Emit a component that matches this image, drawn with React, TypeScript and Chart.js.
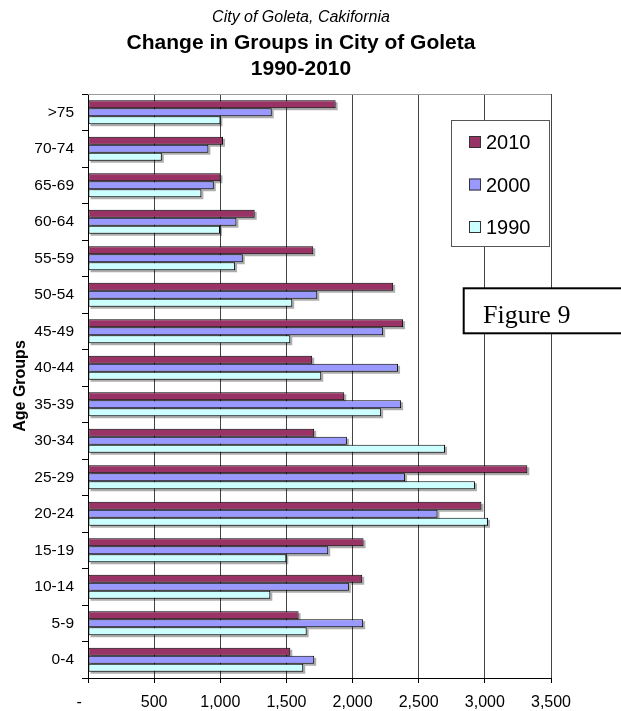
import React, { useEffect, useRef } from 'react';
import { Chart, registerables } from 'chart.js';

Chart.register(...registerables);

// Population by age group, City of Goleta
const ageGroups = ['0-4', '5-9', '10-14', '15-19', '20-24', '25-29', '30-34', '35-39', '40-44', '45-49', '50-54', '55-59', '60-64', '65-69', '70-74', '>75'];
const pop2010 = [1529, 1592, 2073, 2083, 2974, 3321, 1710, 1937, 1695, 2382, 2307, 1703, 1260, 1001, 1021, 1872];
const pop2000 = [1710, 2080, 1972, 1816, 2642, 2397, 1957, 2367, 2344, 2231, 1733, 1170, 1122, 951, 910, 1389];
const pop1990 = [1627, 1653, 1378, 1499, 3024, 2925, 2699, 2216, 1763, 1529, 1544, 1112, 998, 857, 558, 1001];
const seriesNames = ['2010', '2000', '1990'];
const valueTickLabels = ['-    ', '500', '1,000', '1,500', '2,000', '2,500', '3,000', '3,500'];

const subtitleText = 'City of Goleta, Cakifornia';
const titleLines = ['Change in Groups in City of Goleta', '1990-2010'];
const axisTitle = 'Age Groups';
const figureLabel = 'Figure 9';

const SANS = '"Liberation Sans", Arial, sans-serif';
const SERIF = '"Liberation Serif", "Times New Roman", serif';
const seriesColors = ['#993366', '#9999FF', '#CCFFFF'];

// Drop shadow behind each bar
const barShadow = {
  id: 'barShadow',
  beforeDatasetsDraw(chart: any) {
    const ctx = chart.ctx;
    ctx.save();
    ctx.fillStyle = 'rgba(0,0,0,0.32)';
    chart.data.datasets.forEach((_: any, i: number) => {
      const meta = chart.getDatasetMeta(i);
      meta.data.forEach((el: any) => {
        const { x, y, base, height } = el.getProps(['x', 'y', 'base', 'height'], true);
        const left = Math.min(x, base);
        const w = Math.abs(x - base);
        ctx.fillRect(left + 2, y - height / 2 + 2, w, height);
      });
    });
    ctx.restore();
  },
};

// Top border of the plot area
const plotFrame = {
  id: 'plotFrame',
  beforeDatasetsDraw(chart: any) {
    const { ctx, chartArea } = chart;
    ctx.save();
    ctx.strokeStyle = '#9a9a9a';
    ctx.lineWidth = 1;
    ctx.beginPath();
    ctx.moveTo(chartArea.left, chartArea.top + 0.5);
    ctx.lineTo(chartArea.right, chartArea.top + 0.5);
    ctx.stroke();
    ctx.restore();
  },
};

// Titles, legend box and figure caption
const decorations = {
  id: 'decorations',
  afterDraw(chart: any) {
    const ctx = chart.ctx;
    ctx.save();
    ctx.fillStyle = '#000';
    ctx.textAlign = 'center';
    ctx.textBaseline = 'alphabetic';
    ctx.font = `italic 16px ${SANS}`;
    ctx.fillText(subtitleText, 301, 22);
    ctx.font = `bold 21px ${SANS}`;
    ctx.fillText(titleLines[0], 301, 49);
    ctx.fillText(titleLines[1], 301, 75);

    // legend
    ctx.fillStyle = '#fff';
    ctx.fillRect(451, 120, 98, 127);
    ctx.strokeStyle = '#555';
    ctx.lineWidth = 1;
    ctx.strokeRect(451.5, 120.5, 98, 126);
    const rowY = [142, 184.5, 227];
    chart.data.datasets.forEach((ds: any, i: number) => {
      const cy = rowY[i];
      ctx.fillStyle = ds.backgroundColor;
      ctx.fillRect(469, cy - 6, 12, 12);
      ctx.strokeStyle = '#333';
      ctx.strokeRect(469.5, cy - 5.5, 11, 11);
      ctx.fillStyle = '#000';
      ctx.textAlign = 'left';
      ctx.font = `20px ${SANS}`;
      ctx.fillText(ds.label, 486, cy + 7);
    });

    // figure caption box
    ctx.fillStyle = '#fff';
    ctx.fillRect(463, 288, 170, 46);
    ctx.strokeStyle = '#000';
    ctx.lineWidth = 2;
    ctx.strokeRect(463.7, 288.3, 170, 45);
    ctx.fillStyle = '#000';
    ctx.font = `26px ${SERIF}`;
    ctx.textAlign = 'left';
    ctx.fillText(figureLabel, 483, 323);
    ctx.restore();
  },
};

export default function App() {
  const canvasRef = useRef<HTMLCanvasElement | null>(null);

  useEffect(() => {
    if (!canvasRef.current) return;
    const series = [pop2010, pop2000, pop1990];
    const chart = new Chart(canvasRef.current, {
      type: 'bar',
      data: {
        labels: ageGroups,
        datasets: series.map((values, i) => ({
          label: seriesNames[i],
          data: values,
          backgroundColor: seriesColors[i],
          borderColor: '#000',
          borderWidth: 1,
          borderSkipped: false,
          categoryPercentage: 0.6575,
          barPercentage: 1.0,
        })),
      },
      options: {
        indexAxis: 'y',
        animation: false,
        responsive: true,
        maintainAspectRatio: false,
        layout: { padding: { top: 94, right: 70, bottom: 0, left: 0 } },
        plugins: {
          legend: { display: false },
          tooltip: { enabled: false },
          title: { display: false },
        },
        scales: {
          x: {
            type: 'linear',
            min: 0,
            max: 3500,
            ticks: {
              stepSize: 500,
              color: '#000',
              font: { family: SANS, size: 16 },
              padding: 10,
              maxRotation: 0,
              callback: (_v: any, index: number) => valueTickLabels[index],
            },
            grid: { color: '#444', tickColor: '#000', tickLength: 5, lineWidth: 1 },
            border: { color: '#000', width: 1 },
            afterFit: (scale: any) => { scale.height = 33; },
          },
          y: {
            reverse: true,
            ticks: {
              color: '#000',
              font: { family: SANS, size: 15.5 },
              padding: 8,
              autoSkip: false,
            },
            grid: { drawOnChartArea: false, color: '#000', tickLength: 6, offset: true },
            border: { color: '#000', width: 1 },
            title: {
              display: true,
              text: axisTitle,
              color: '#000',
              font: { family: SANS, size: 16, weight: 'bold' },
              padding: { top: 11, bottom: 0 },
            },
            afterFit: (scale: any) => { scale.width = 88; },
          },
        },
      },
      plugins: [barShadow, plotFrame, decorations],
    } as any);
    return () => chart.destroy();
  }, []);

  return (
    <div style={{ position: 'fixed', left: 0, top: 0, width: 621, height: 711, background: '#fff', overflow: 'hidden' }}>
      <canvas ref={canvasRef} />
    </div>
  );
}
